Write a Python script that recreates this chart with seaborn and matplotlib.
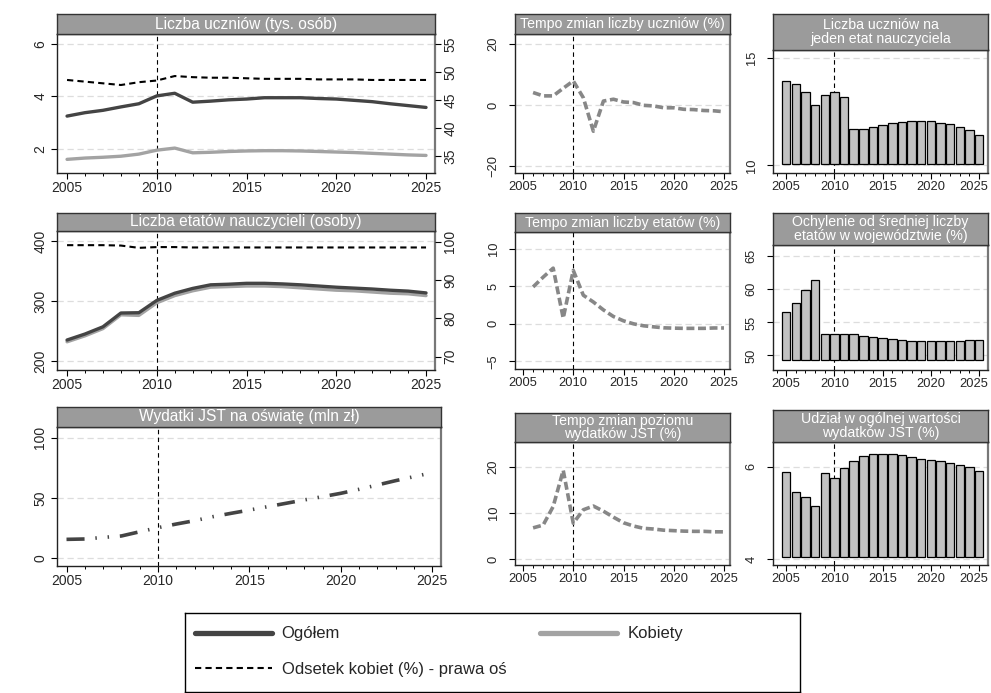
"""Panel chart: uczniowie, etaty nauczycieli i wydatki JST na oświatę, 2005-2025."""

import matplotlib

matplotlib.use("Agg")
import matplotlib.pyplot as plt
import matplotlib.transforms as mtransforms
import seaborn as sns
from matplotlib.lines import Line2D
from matplotlib.ticker import MultipleLocator

years = list(range(2005, 2026))
years_chg = years[1:]

# Liczba uczniów (tys. osób)
uczniowie_ogolem = [3.25, 3.38, 3.47, 3.60, 3.72, 4.02, 4.12, 3.78, 3.82, 3.87, 3.90,
                    3.95, 3.95, 3.95, 3.92, 3.90, 3.85, 3.80, 3.72, 3.65, 3.58]
uczniowie_kobiety = [1.60, 1.65, 1.68, 1.72, 1.80, 1.95, 2.03, 1.85, 1.87, 1.90, 1.92,
                     1.93, 1.93, 1.92, 1.90, 1.88, 1.86, 1.83, 1.80, 1.77, 1.75]
uczniowie_odsetek = [48.6, 48.3, 48.0, 47.7, 48.2, 48.5, 49.3, 49.1, 49.0, 49.0, 48.9,
                     48.8, 48.8, 48.8, 48.7, 48.7, 48.7, 48.6, 48.6, 48.6, 48.6]
uczniowie_tempo = [4.1, 3.0, 3.0, 5.5, 7.9, 2.4, -8.6, 1.3, 1.9, 1.0,
                   0.8, -0.1, -0.3, -0.9, -0.9, -1.4, -1.5, -1.8, -1.9, -2.2]
uczniowie_na_etat = [13.93, 13.79, 13.43, 12.82, 13.29, 13.41, 13.19, 11.71, 11.69, 11.79, 11.87,
                     11.98, 12.01, 12.07, 12.07, 12.07, 11.98, 11.90, 11.76, 11.64, 11.43]

# Liczba etatów nauczycieli (osoby)
etaty_ogolem = [235, 245, 257, 280, 280.5, 301, 313, 321, 327, 328, 329.5,
                329.5, 328.5, 327, 325, 323, 321.5, 320, 318, 316.5, 313.5]
etaty_kobiety = [232, 242, 254, 277, 276, 297, 309, 317, 323, 324, 325,
                 325, 324, 322, 320, 318, 317, 315, 313, 312, 309]
etaty_odsetek = [99.1, 99.1, 99.1, 99.0, 98.4, 98.6, 98.6, 98.5, 98.5, 98.5, 98.5,
                 98.5, 98.5, 98.5, 98.5, 98.5, 98.5, 98.5, 98.5, 98.5, 98.5]
etaty_tempo = [4.9, 6.2, 7.4, 0.75, 7.1, 3.8, 2.9, 1.85, 0.97, 0.4,
               0.0, -0.26, -0.4, -0.53, -0.57, -0.6, -0.6, -0.6, -0.55, -0.55]
etaty_odchylenie = [56.5, 57.96, 59.9, 61.4, 53.2, 53.2, 53.2, 53.2, 52.98, 52.8, 52.7,
                    52.5, 52.4, 52.2, 52.15, 52.15, 52.15, 52.2, 52.2, 52.4, 52.4]

# Wydatki JST na oświatę (mln zł)
wydatki = [15.7, 16.0, 17.3, 18.5, 22.0, 25.4, 28.4, 31.2, 34.5, 37.3, 40.0,
           42.8, 45.6, 48.4, 51.1, 53.9, 57.2, 60.8, 64.4, 67.7, 71.0]
wydatki_tempo = [6.8, 7.4, 11.4, 19.2, 7.8, 10.7, 11.5, 10.4, 9.1, 7.9,
                 7.2, 6.7, 6.55, 6.3, 6.2, 6.1, 6.05, 6.05, 5.95, 5.95]
wydatki_udzial = [5.89, 5.45, 5.34, 5.15, 5.86, 5.75, 5.97, 6.12, 6.22, 6.28, 6.28,
                  6.27, 6.24, 6.20, 6.17, 6.14, 6.11, 6.07, 6.04, 5.99, 5.91]

W, H = 991, 693
DARK = "#444444"
LIGHT = "#a3a3a3"
CHG = "#878787"
TITLE_BG = "#9b9b9b"
BAR = "#c2c2c2"

sns.set_theme(style="white")
plt.rcParams["font.family"] = ["Liberation Sans", "DejaVu Sans"]

fig = plt.figure(figsize=(W / 100, H / 100), dpi=100)


def box(x0, y0, x1, y1):
    return [x0 / W, 1 - y1 / H, (x1 - x0) / W, (y1 - y0) / H]


def title_box(rect, text, fs):
    tax = fig.add_axes(box(*rect))
    tax.set_facecolor(TITLE_BG)
    tax.set_xticks([])
    tax.set_yticks([])
    for sp in tax.spines.values():
        sp.set_color("#333333")
        sp.set_linewidth(1.0)
    tax.text(0.5, 0.5, text, color="white", fontsize=fs, ha="center", va="center",
             linespacing=0.95, transform=tax.transAxes)


def panel(rect, title_rect, title, xlim, ylim, yticks, tick_fs=9.3, title_fs=10.2,
          ypad=7.0, shift_last=False):
    ax = fig.add_axes(box(*rect))
    title_box(title_rect, title, title_fs)
    ax.set_xlim(*xlim)
    ax.set_ylim(*ylim)
    ax.set_yticks(yticks)
    ax.set_xticks([2005, 2010, 2015, 2020, 2025])
    ax.xaxis.set_minor_locator(MultipleLocator(1))
    for y in yticks:
        ax.axhline(y, color="#dddddd", lw=0.9, ls=(0, (5, 3)), zorder=0)
    ax.axvline(2010, color="black", lw=0.8, ls=(0, (4, 3)), zorder=1)
    ax.tick_params(axis="both", which="major", direction="out", length=4, width=0.8,
                   color="black", labelsize=tick_fs, pad=2, bottom=True, left=True)
    ax.tick_params(axis="y", pad=ypad)
    ax.tick_params(axis="x", which="minor", direction="out", length=2.5, width=0.7,
                   color="black", bottom=True)
    for lab in ax.get_yticklabels():
        lab.set_rotation(90)
        lab.set_va("center")
    if shift_last:
        last = ax.get_xticklabels()[-1]
        last.set_transform(last.get_transform() +
                           mtransforms.ScaledTranslation(-5 / 100, 0, fig.dpi_scale_trans))
    for name, sp in ax.spines.items():
        sp.set_color("#222222")
        sp.set_linewidth(1.0)
    ax.spines["right"].set_color("#777777")
    ax.spines["right"].set_linewidth(1.6)
    ax.set_xlabel("")
    ax.set_ylabel("")
    return ax


def right_axis(ax, ylim, yticks, fs):
    rax = ax.twinx()
    rax.set_ylim(*ylim)
    rax.set_yticks(yticks)
    rax.tick_params(axis="y", direction="out", length=4, width=0.8, color="black",
                    labelsize=fs, pad=2, right=True)
    for lab in rax.get_yticklabels():
        lab.set_rotation(90)
        lab.set_va("center")
    for sp in rax.spines.values():
        sp.set_visible(False)
    rax.grid(False)
    return rax


def bars(ax, values, base):
    ax.bar(years, [v - base for v in values], bottom=base, width=0.88, color=BAR,
           edgecolor="black", linewidth=0.9, zorder=2)


def change_line(ax, values):
    sns.lineplot(x=years_chg, y=values, ax=ax, color=CHG, lw=2.6,
                 linestyle=(0, (2.2, 1.0)), zorder=3)


LEFT = dict(tick_fs=10, title_fs=11.2, ypad=3.0)
RIGHT = dict(shift_last=True)

# Row 1
ax1 = panel((57, 34, 435, 173), (57, 14, 435, 34), "Liczba uczniów (tys. osób)",
            (2004.44, 2025.5), (1.08, 6.38), [2, 4, 6], **LEFT)
sns.lineplot(x=years, y=uczniowie_ogolem, ax=ax1, color=DARK, lw=2.4, zorder=3)
sns.lineplot(x=years, y=uczniowie_kobiety, ax=ax1, color=LIGHT, lw=2.4, zorder=3)
r1 = right_axis(ax1, (32.0, 56.8), [35, 40, 45, 50, 55], 10)
sns.lineplot(x=years, y=uczniowie_odsetek, ax=r1, color="black", lw=1.5,
             linestyle=(0, (3, 2)), zorder=3)

ax2 = panel((515, 34, 730, 173), (515, 14, 730, 34), "Tempo zmian liczby uczniów (%)",
            (2004.2, 2025.6), (-22.3, 23.3), [-20, 0, 20])
change_line(ax2, uczniowie_tempo)

ax3 = panel((773, 50, 988, 173), (773, 14, 988, 50), "Liczba uczniów na\njeden etat nauczyciela",
            (2003.63, 2025.93), (9.64, 15.37), [10, 15], **RIGHT)
bars(ax3, uczniowie_na_etat, 10.05)

# Row 2
ax4 = panel((57, 231, 435, 370), (57, 213, 435, 231), "Liczba etatów nauczycieli (osoby)",
            (2004.44, 2025.5), (185, 416.7), [200, 300, 400], **LEFT)
sns.lineplot(x=years, y=etaty_kobiety, ax=ax4, color=LIGHT, lw=2.4, zorder=3)
sns.lineplot(x=years, y=etaty_ogolem, ax=ax4, color=DARK, lw=2.4, zorder=3)
r4 = right_axis(ax4, (66.5, 102.8), [70, 80, 90, 100], 10)
sns.lineplot(x=years, y=etaty_odsetek, ax=r4, color="black", lw=1.5,
             linestyle=(0, (3, 2)), zorder=3)

ax5 = panel((515, 232, 730, 369), (515, 213, 730, 232), "Tempo zmian liczby etatów (%)",
            (2004.2, 2025.6), (-6.0, 12.2), [-5, 0, 5, 10])
change_line(ax5, etaty_tempo)

ax6 = panel((773, 245, 988, 370), (773, 213, 988, 245),
            "Ochylenie od średniej liczby\netatów w województwie (%)",
            (2003.63, 2025.93), (47.8, 66.7), [50, 55, 60, 65], **RIGHT)
bars(ax6, etaty_odchylenie, 49.3)

# Row 3
ax7 = panel((57, 427, 441, 566), (57, 407, 441, 427), "Wydatki JST na oświatę (mln zł)",
            (2004.48, 2025.48), (-6.4, 108.9), [0, 50, 100], **LEFT)
sns.lineplot(x=years, y=wydatki, ax=ax7, color=DARK, lw=2.6,
             linestyle=(0, (5, 3, 0.4, 3, 0.4, 3)), zorder=3)

ax8 = panel((515, 442, 730, 565), (515, 413, 730, 442), "Tempo zmian poziomu\nwydatków JST (%)",
            (2004.2, 2025.6), (-1.2, 25.3), [0, 10, 20])
change_line(ax8, wydatki_tempo)

ax9 = panel((773, 442, 988, 565), (773, 410, 988, 442), "Udział w ogólnej wartości\nwydatków JST (%)",
            (2003.63, 2025.93), (3.88, 6.53), [4, 6], **RIGHT)
bars(ax9, wydatki_udzial, 4.05)

# Legend
lax = fig.add_axes(box(185, 613, 800, 692))
lax.set_xticks([])
lax.set_yticks([])
lax.set_facecolor("white")
for sp in lax.spines.values():
    sp.set_color("black")
    sp.set_linewidth(1.0)

h_ogolem = Line2D([], [], color=DARK, lw=3.8)
h_kobiety = Line2D([], [], color=LIGHT, lw=3.8)
h_odsetek = Line2D([], [], color="black", lw=1.5, linestyle=(0, (3, 2)))

leg_kw = dict(frameon=False, fontsize=12, handlelength=4.6, handletextpad=0.6,
              borderaxespad=0.0, borderpad=0.0)
leg1 = lax.legend([h_ogolem, h_odsetek], ["Ogółem", "Odsetek kobiet (%) - prawa oś"],
                  loc="upper left", bbox_to_anchor=(0.016, 0.83), labelspacing=1.25, **leg_kw)
lax.add_artist(leg1)
lax.legend([h_kobiety], ["Kobiety"], loc="upper left", bbox_to_anchor=(0.578, 0.83), **leg_kw)

fig.savefig("out.png", dpi=100)
plt.close(fig)
